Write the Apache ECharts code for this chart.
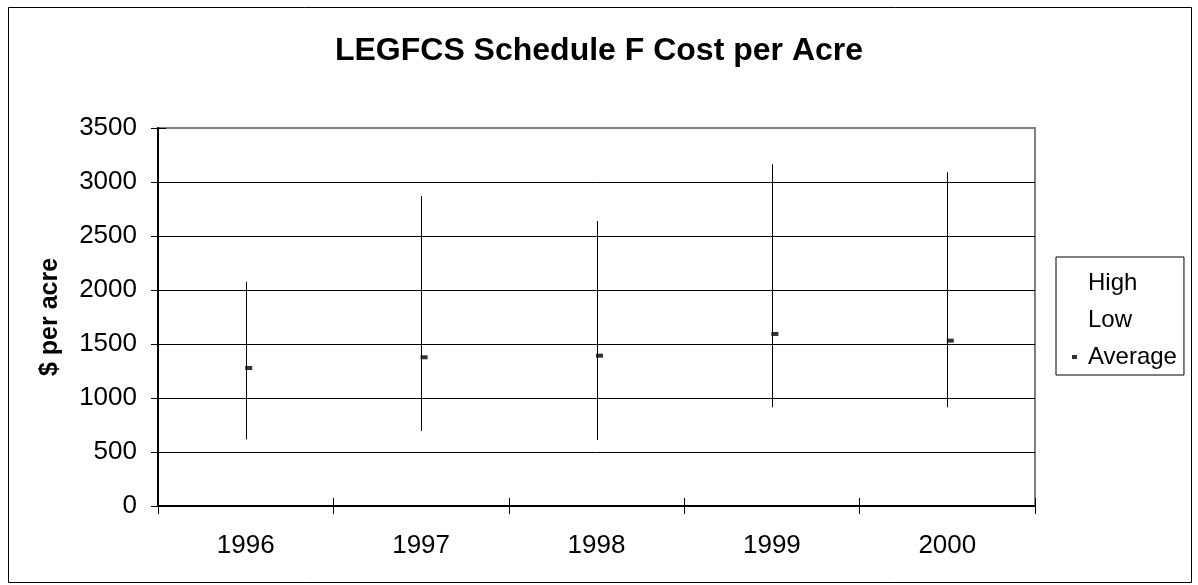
<!DOCTYPE html>
<html>
<head>
<meta charset="utf-8">
<script src="https://cdn.jsdelivr.net/npm/echarts@6/dist/echarts.min.js"></script>
<style>
  html, body { margin: 0; padding: 0; background: #fff; }
  #chart { width: 1198px; height: 585px; }
</style>
</head>
<body>
<div id="chart"></div>
<script>
// values
const years = ['1996', '1997', '1998', '1999', '2000'];
const highValues = [2077, 2870, 2639, 3164, 3090];
const lowValues = [617, 694, 611, 914, 914];
const avgValues = [1278, 1377, 1392, 1593, 1531];
const yTicks = { min: 0, max: 3500, interval: 500 };

const font = "'Liberation Sans', Arial, sans-serif";

const chart = echarts.init(document.getElementById('chart'));

const option = {
  animation: false,
  backgroundColor: '#fff',
  title: {
    text: 'LEGFCS Schedule F Cost per Acre',
    left: 'center',
    top: 30,
    textStyle: { fontFamily: font, fontSize: 32, fontWeight: 'bold', color: '#000' },
  },
  graphic: [
    {
      type: 'rect',
      shape: { x: 8.5, y: 7.5, width: 1183, height: 575 },
      style: { fill: 'none', stroke: '#000', lineWidth: 1 },
      silent: true,
    },
  ],
  legend: {
    orient: 'vertical',
    left: 1056,
    top: 257,
    padding: [13, 7, 5, 16],
    itemWidth: 5,
    itemHeight: 4,
    itemGap: 11,
    borderColor: '#000',
    borderWidth: 1,
    textStyle: {
      fontFamily: font,
      fontSize: 24,
      lineHeight: 26,
      color: '#000',
      padding: [0, 0, 0, 6],
    },
    data: [
      { name: 'High', icon: 'none' },
      { name: 'Low', icon: 'none' },
      { name: 'Average', icon: 'rect' },
    ],
  },
  grid: { left: 158, right: 163, top: 128, bottom: 79, show: true, borderColor: '#808080', borderWidth: 2 },
  xAxis: [
    {
      type: 'category',
      data: years,
      boundaryGap: true,
      axisLine: { lineStyle: { color: '#000', width: 2 } },
      axisTick: { show: true, length: 8, inside: false, lineStyle: { color: '#000', width: 1 } },
      axisLabel: { margin: 27, fontFamily: font, fontSize: 26, color: '#000' },
      splitLine: { show: false },
    },
    {
      type: 'category',
      data: years,
      position: 'bottom',
      boundaryGap: true,
      axisLine: { show: false },
      axisTick: { show: true, length: 8, inside: true, lineStyle: { color: '#000', width: 1 } },
      axisLabel: { show: false },
      splitLine: { show: false },
    },
  ],
  yAxis: [
    {
      type: 'value',
      min: yTicks.min,
      max: yTicks.max,
      interval: yTicks.interval,
      name: '$ per acre',
      nameLocation: 'middle',
      nameGap: 95,
      nameTextStyle: { fontFamily: font, fontSize: 25, fontWeight: 'bold', color: '#000' },
      axisLine: { show: true, lineStyle: { color: '#000', width: 2 } },
      axisTick: { show: true, length: 7, inside: false, lineStyle: { color: '#000', width: 1 } },
      axisLabel: { margin: 21, fontFamily: font, fontSize: 26, color: '#000', formatter: (v) => String(v) },
      splitLine: { show: true, showMaxLine: false, lineStyle: { color: '#000', width: 1 } },
    },
    {
      type: 'value',
      position: 'left',
      min: yTicks.min,
      max: yTicks.max,
      interval: yTicks.interval,
      axisLine: { show: false },
      axisTick: { show: true, length: 8, inside: true, lineStyle: { color: '#000', width: 1 } },
      axisLabel: { show: false },
      splitLine: { show: false },
    },
  ],
  series: [
    {
      name: 'HiLo',
      type: 'custom',
      silent: true,
      data: years.map((y, i) => [i, lowValues[i], highValues[i]]),
      encode: { x: 0, y: [1, 2] },
      renderItem: (params, api) => {
        const lo = api.coord([api.value(0), api.value(1)]);
        const hi = api.coord([api.value(0), api.value(2)]);
        const x = Math.round(lo[0]) + 0.5;
        return {
          type: 'line',
          shape: { x1: x, y1: lo[1], x2: x, y2: hi[1] },
          style: { stroke: '#000', lineWidth: 1 },
        };
      },
      z: 3,
    },
    {
      name: 'High',
      type: 'scatter',
      symbol: 'none',
      data: highValues,
      silent: true,
    },
    {
      name: 'Low',
      type: 'scatter',
      symbol: 'none',
      data: lowValues,
      silent: true,
    },
    {
      name: 'Average',
      type: 'scatter',
      symbol: 'rect',
      symbolSize: [7, 4],
      symbolOffset: [3, 0],
      itemStyle: { color: '#000' },
      data: avgValues,
      silent: true,
      z: 4,
    },
  ],
};

chart.setOption(option);
</script>
</body>
</html>
